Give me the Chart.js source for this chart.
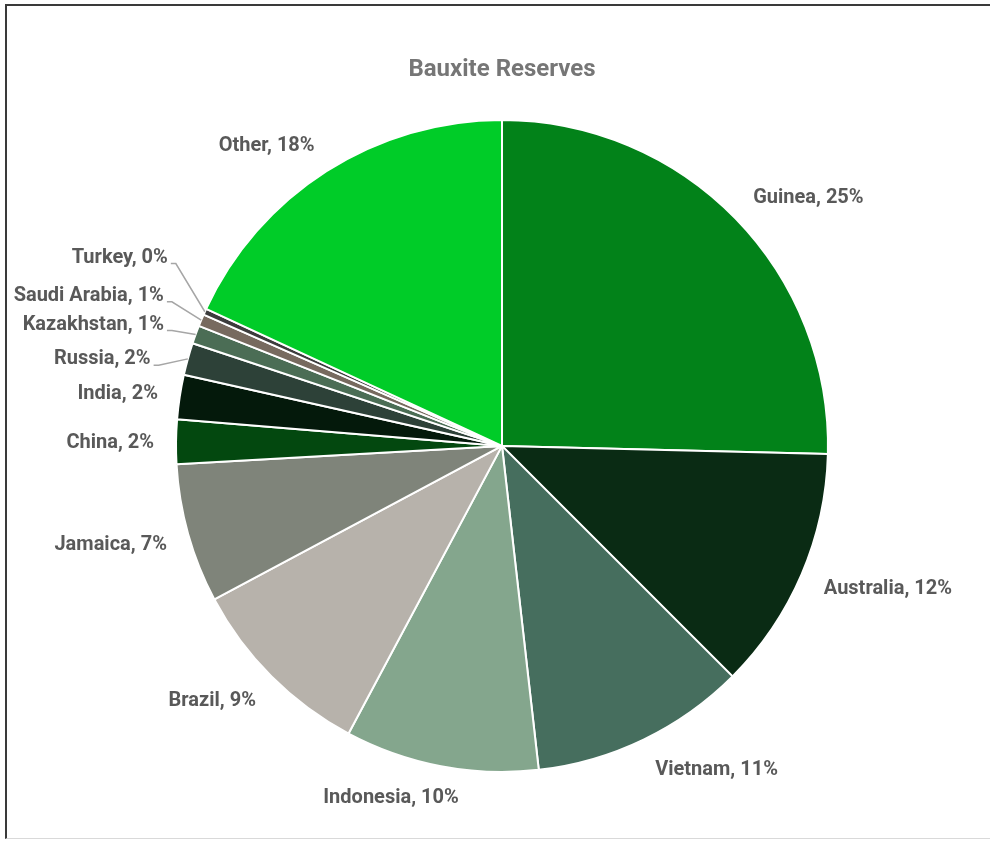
<!DOCTYPE html>
<html>
<head>
<meta charset="utf-8">
<title>Bauxite Reserves</title>
<script src="https://cdn.jsdelivr.net/npm/chart.js@4.4.1/dist/chart.umd.min.js"></script>
<style>
  body { margin: 0; background: #fff; }
  #wrap { position: relative; width: 990px; height: 841px; }
  #frame {
    position: absolute; left: 5px; top: 4px; right: -10px; bottom: 2px;
    border-top: 2px solid #3a3a3a; border-left: 2px solid #3a3a3a;
    border-bottom: 1px solid #d9d9d9; pointer-events: none;
  }
</style>
</head>
<body>
<div id="wrap">
  <canvas id="myChart"></canvas>
  <div id="frame"></div>
</div>
<script>
// share of world bauxite reserves, percent
const countries = ['Guinea', 'Australia', 'Vietnam', 'Indonesia', 'Brazil', 'Jamaica',
  'China', 'India', 'Russia', 'Kazakhstan', 'Saudi Arabia', 'Turkey', 'Other'];
const shares = [25.4, 12.1, 10.7, 9.6, 9.4, 6.9, 2.2, 2.2, 1.6, 0.9, 0.6, 0.3, 18.1];
const sliceColors = ['#028219', '#0a2b14', '#466e5e', '#84a68d', '#b7b2ab', '#7f847a',
  '#03480f', '#04190b', '#2d4138', '#4b6d55', '#776a5f', '#3c3c3c', '#00cc28'];

// hand-placed labels for the crowded small slices (pixel nudges)
const labelShift = {
  'Indonesia': [22, -2],
  'Russia': [-16, 7],
  'Kazakhstan': [-11, -1],
  'Saudi Arabia': [-17, -14],
  'Turkey': [-17, -43]
};
const leaderLines = ['Russia', 'Kazakhstan', 'Saudi Arabia', 'Turkey'];

const outsideLabels = {
  id: 'outsideLabels',
  afterDatasetsDraw(chart) {
    const ctx = chart.ctx;
    const meta = chart.getDatasetMeta(0);
    const total = shares.reduce((a, b) => a + b, 0);
    ctx.save();
    ctx.font = 'bold 20px Roboto';
    ctx.fillStyle = '#595959';
    ctx.textBaseline = 'middle';
    ctx.textAlign = 'left';
    meta.data.forEach((arc, i) => {
      const { x, y, startAngle, endAngle, outerRadius } =
        arc.getProps(['x', 'y', 'startAngle', 'endAngle', 'outerRadius'], true);
      const mid = (startAngle + endAngle) / 2;
      const ux = Math.cos(mid), uy = Math.sin(mid);
      const r = outerRadius + 22;
      const text = countries[i] + ', ' + Math.round(shares[i] / total * 100) + '%';
      const w = ctx.measureText(text).width;
      const shift = labelShift[countries[i]] || [0, 0];
      let left = ux >= 0 ? x + ux * r + 2 : x + ux * r - w;
      left += shift[0];
      const cy = y + uy * r + uy * 10 + shift[1] + 2;
      ctx.fillText(text, left, cy);
      if (leaderLines.includes(countries[i])) {
        ctx.strokeStyle = '#a6a6a6';
        ctx.lineWidth = 1.5;
        ctx.beginPath();
        ctx.moveTo(left + w + 3, cy + 6);
        ctx.lineTo(left + w + 8, cy + 6);
        ctx.lineTo(x + ux * outerRadius, y + uy * outerRadius);
        ctx.stroke();
      }
    });
    ctx.restore();
  }
};

const ctx = document.getElementById('myChart').getContext('2d');
const myChart = new Chart(ctx, {
  type: 'pie',
  data: {
    labels: countries,
    datasets: [{
      data: shares,
      backgroundColor: sliceColors,
      borderColor: '#ffffff',
      borderWidth: 2
    }]
  },
  options: {
    responsive: true,
    maintainAspectRatio: false,
    animation: false,
    layout: {
      padding: { left: 175, right: 161, top: 0, bottom: 68 }
    },
    plugins: {
      legend: { display: false },
      tooltip: { enabled: true },
      title: {
        display: true,
        text: 'Bauxite Reserves',
        color: '#767676',
        font: { family: 'Roboto', size: 24, weight: 'bold' },
        padding: { top: 56, bottom: 34 }
      }
    }
  },
  plugins: [outsideLabels]
});
</script>
</body>
</html>
